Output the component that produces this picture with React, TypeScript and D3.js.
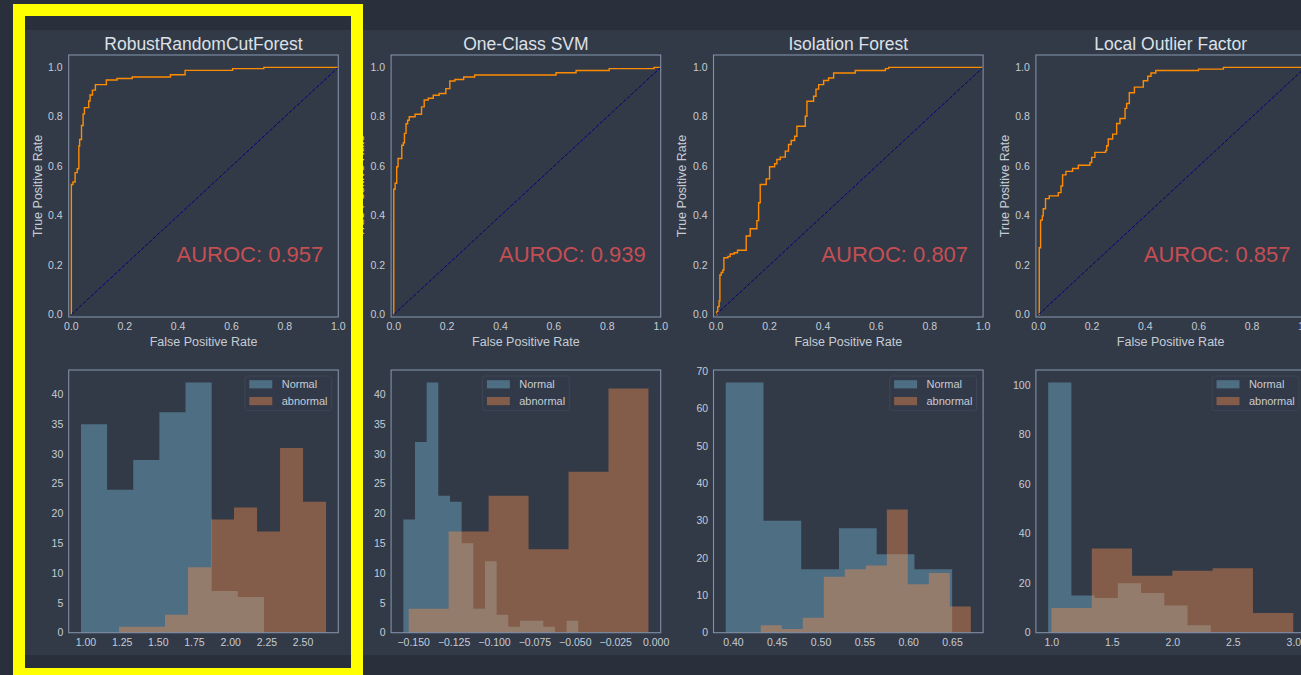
import React from "react";
import * as d3 from "d3";

// ---------- data ----------
const modelNames = ["RobustRandomCutForest", "One-Class SVM", "Isolation Forest", "Local Outlier Factor"];
const aurocLabels = ["AUROC: 0.957", "AUROC: 0.939", "AUROC: 0.807", "AUROC: 0.857"];

const rrcfFpr = [0, 0, 0.006, 0.014, 0.022, 0.028, 0.031, 0.038, 0.044, 0.049, 0.065, 0.07, 0.079, 0.09, 0.131, 0.171, 0.228, 0.371, 0.426, 0.604, 0.721, 1.0];
const rrcfTpr = [0, 0.526, 0.536, 0.574, 0.59, 0.682, 0.708, 0.765, 0.812, 0.837, 0.864, 0.888, 0.908, 0.93, 0.949, 0.955, 0.961, 0.97, 0.988, 0.995, 1.0, 1.0];

const ocsvmFpr = [0, 0, 0.005, 0.011, 0.016, 0.03, 0.036, 0.04, 0.046, 0.052, 0.058, 0.08, 0.104, 0.114, 0.129, 0.148, 0.17, 0.195, 0.21, 0.229, 0.262, 0.303, 0.608, 0.683, 0.807, 0.975, 1.0];
const ocsvmTpr = [0, 0.507, 0.531, 0.598, 0.631, 0.685, 0.695, 0.733, 0.772, 0.786, 0.8, 0.81, 0.84, 0.868, 0.875, 0.887, 0.894, 0.914, 0.945, 0.951, 0.961, 0.969, 0.978, 0.987, 0.995, 1.0, 1.0];

const ifFpr = [0, 0.0025, 0.006, 0.011, 0.014, 0.019, 0.025, 0.029, 0.044, 0.0525, 0.0675, 0.08, 0.1125, 0.1275, 0.1525, 0.159, 0.165, 0.1875, 0.2, 0.219, 0.2275, 0.24, 0.259, 0.271, 0.281, 0.294, 0.3025, 0.334, 0.34, 0.365, 0.374, 0.384, 0.4025, 0.421, 0.44, 0.521, 0.634, 0.646, 1.0];
const ifTpr = [0, 0.011, 0.032, 0.055, 0.16, 0.17, 0.18, 0.23, 0.235, 0.245, 0.25, 0.26, 0.318, 0.347, 0.38, 0.452, 0.526, 0.549, 0.598, 0.61, 0.627, 0.637, 0.661, 0.688, 0.704, 0.721, 0.762, 0.802, 0.863, 0.883, 0.912, 0.93, 0.947, 0.957, 0.977, 0.987, 0.995, 1.0, 1.0];

const lofFpr = [0, 0.0025, 0.0075, 0.014, 0.0175, 0.026, 0.04, 0.074, 0.084, 0.09, 0.1025, 0.1275, 0.149, 0.1925, 0.199, 0.211, 0.251, 0.255, 0.261, 0.2775, 0.2925, 0.305, 0.324, 0.33, 0.34, 0.359, 0.3925, 0.409, 0.421, 0.439, 0.599, 0.6925, 1.0];
const lofTpr = [0, 0.27, 0.382, 0.399, 0.428, 0.469, 0.48, 0.493, 0.52, 0.565, 0.579, 0.591, 0.604, 0.615, 0.636, 0.656, 0.663, 0.683, 0.71, 0.73, 0.773, 0.793, 0.834, 0.854, 0.897, 0.92, 0.946, 0.964, 0.977, 0.987, 0.993, 1.0, 1.0];

const rocTicks = [0, 0.2, 0.4, 0.6, 0.8, 1.0];

const rrcfNormalRange = [0.9654, 2.23];
const rrcfNormalCounts = [35, 24, 29, 37, 42, 7, 6];
const rrcfAbnormalRange = [1.2285, 2.659];
const rrcfAbnormalCounts = [1, 1, 3, 11, 19, 21, 17, 31, 22];

const ocsvmNormalRange = [-0.1564, -0.0482];
const ocsvmNormalCounts = [19, 32, 42, 23, 22, 15, 4, 12, 3, 1, 2, 2, 1, 0, 2];
const ocsvmAbnormalRange = [-0.1531, -0.00475];
const ocsvmAbnormalCounts = [4, 17, 23, 14, 27, 41];

const ifNormalRange = [0.39125, 0.6496];
const ifNormalCounts = [67, 30, 17, 28, 21, 17];
const ifAbnormalRange = [0.4312, 0.6709];
const ifAbnormalCounts = [2, 1, 4, 15, 17, 18, 33, 13, 16, 7];

const lofNormalRange = [0.9697, 2.313];
const lofNormalCounts = [101, 15, 14, 20, 16, 11, 3];
const lofAbnormalRange = [0.9972, 2.9945];
const lofAbnormalCounts = [10, 34, 23, 25, 26, 8];

const rrcfHistXTicks = [1.0, 1.25, 1.5, 1.75, 2.0, 2.25, 2.5];
const ocsvmHistXTicks = [-0.15, -0.125, -0.1, -0.075, -0.05, -0.025, 0.0];
const ifHistXTicks = [0.4, 0.45, 0.5, 0.55, 0.6, 0.65];
const lofHistXTicks = [1.0, 1.5, 2.0, 2.5, 3.0];

const rrcfHistYTicks = [0, 5, 10, 15, 20, 25, 30, 35, 40];
const ocsvmHistYTicks = [0, 5, 10, 15, 20, 25, 30, 35, 40];
const ifHistYTicks = [0, 10, 20, 30, 40, 50, 60, 70];
const lofHistYTicks = [0, 20, 40, 60, 80, 100];

const histXFormats = [".2f", ".3f", ".2f", ".1f"];
const legendLabels = ["Normal", "abnormal"];
const legendPlacement = ["right", "center", "right", "right"];

// ---------- styling / layout ----------
const FONT = "'Liberation Sans', Arial, Helvetica, sans-serif";
const W = 1301;
const H = 675;
const PAGE_BG = "#29303b";
const FIG_BG = "#323A48";
const SPINE = "#8090a6";
const TICK_COLOR = "#c6ccd5";
const TITLE_COLOR = "#dde1e7";
const NORMAL_COLOR = "#77BEDB";
const ABNORMAL_COLOR = "#ff914d";
const BAR_ALPHA = 0.4;

const PANEL_X0 = 68.7;
const PANEL_DX = 322.4;
const PANEL_W = 269.6;
const ROC_TOP = 55;
const ROC_BOTTOM = 317;
const HIST_TOP = 370;
const HIST_BOTTOM = 632.7;

const rocData = [
  [rrcfFpr, rrcfTpr],
  [ocsvmFpr, ocsvmTpr],
  [ifFpr, ifTpr],
  [lofFpr, lofTpr],
];
const histData = [
  { nr: rrcfNormalRange, nc: rrcfNormalCounts, ar: rrcfAbnormalRange, ac: rrcfAbnormalCounts, xt: rrcfHistXTicks, yt: rrcfHistYTicks },
  { nr: ocsvmNormalRange, nc: ocsvmNormalCounts, ar: ocsvmAbnormalRange, ac: ocsvmAbnormalCounts, xt: ocsvmHistXTicks, yt: ocsvmHistYTicks },
  { nr: ifNormalRange, nc: ifNormalCounts, ar: ifAbnormalRange, ac: ifAbnormalCounts, xt: ifHistXTicks, yt: ifHistYTicks },
  { nr: lofNormalRange, nc: lofNormalCounts, ar: lofAbnormalRange, ac: lofAbnormalCounts, xt: lofHistXTicks, yt: lofHistYTicks },
];

// step-outline points of a histogram: one point at each bin's left edge, plus the final right edge
function stepPoints(range: number[], counts: number[]) {
  const edges = d3.scaleLinear().domain([0, counts.length]).range(range);
  const pts = counts.map((c, k) => [edges(k), c] as [number, number]);
  pts.push([edges(counts.length), counts[counts.length - 1]]);
  return pts;
}

function RocPanel({ i }: { i: number }) {
  const left = PANEL_X0 + PANEL_DX * i;
  const right = left + PANEL_W;
  const x = d3.scaleLinear().domain([-0.01, 1.0]).range([left, right]);
  const y = d3.scaleLinear().domain([-0.01, 1.05]).range([ROC_BOTTOM, ROC_TOP]);
  const [fpr, tpr] = rocData[i];
  const pts = fpr.map((f, k) => [f, tpr[k]] as [number, number]);
  const line = d3
    .line<[number, number]>()
    .x((d) => x(d[0]))
    .y((d) => y(d[1]))
    .curve(d3.curveStepAfter);
  const fmt = d3.format(".1f");
  const cx = (left + right) / 2;
  return (
    <g>
      <text x={cx} y={49.5} textAnchor="middle" fontSize={17.5} fill={TITLE_COLOR} fontFamily={FONT}>
        {modelNames[i]}
      </text>
      <path d={line(pts) || ""} fill="none" stroke="#ff8c00" strokeWidth={1.4} />
      <line x1={x(0)} y1={y(0)} x2={x(1)} y2={y(1)} stroke="#000080" strokeWidth={1} strokeDasharray="3.7 1.6" />
      <rect x={left} y={ROC_TOP} width={PANEL_W} height={ROC_BOTTOM - ROC_TOP} fill="none" stroke={SPINE} strokeWidth={1.1} />
      {rocTicks.map((t) => (
        <text key={"y" + t} x={left - 6} y={y(t) + 3.7} textAnchor="end" fontSize={10.5} fill={TICK_COLOR} fontFamily={FONT}>
          {fmt(t)}
        </text>
      ))}
      {rocTicks.map((t) => (
        <text key={"x" + t} x={x(t)} y={ROC_BOTTOM + 13.2} textAnchor="middle" fontSize={10.5} fill={TICK_COLOR} fontFamily={FONT}>
          {fmt(t)}
        </text>
      ))}
      <text x={cx} y={ROC_BOTTOM + 28.6} textAnchor="middle" fontSize={12.5} fill={TICK_COLOR} fontFamily={FONT}>
        False Positive Rate
      </text>
      <text
        transform={`translate(${left - 27.2},${(ROC_TOP + ROC_BOTTOM) / 2}) rotate(-90)`}
        textAnchor="middle"
        fontSize={12.5}
        fill={TICK_COLOR}
        fontFamily={FONT}
      >
        True Positive Rate
      </text>
      <text x={left + 254.6} y={261.6} textAnchor="end" fontSize={22} fill="#c44e52" fontFamily={FONT}>
        {aurocLabels[i]}
      </text>
    </g>
  );
}

function HistPanel({ i }: { i: number }) {
  const left = PANEL_X0 + PANEL_DX * i;
  const right = left + PANEL_W;
  const h = histData[i];
  const lo = Math.min(h.nr[0], h.ar[0]);
  const hi = Math.max(h.nr[1], h.ar[1]);
  const pad = (hi - lo) * 0.05;
  const x = d3.scaleLinear().domain([lo - pad, hi + pad]).range([left, right]);
  const yMax = (d3.max([...h.nc, ...h.ac]) as number) * 1.05;
  const y = d3.scaleLinear().domain([0, yMax]).range([HIST_BOTTOM, HIST_TOP]);
  const area = d3
    .area<[number, number]>()
    .x((d) => x(d[0]))
    .y0(y(0))
    .y1((d) => y(d[1]))
    .curve(d3.curveStepAfter);
  const nPath = area(stepPoints(h.nr, h.nc)) || "";
  const aPath = area(stepPoints(h.ar, h.ac)) || "";
  const xf = d3.format(histXFormats[i]);
  const lw = 86.7;
  const lx = legendPlacement[i] === "right" ? right - 6.6 - lw : (left + right) / 2 - lw / 2;
  const ly = 376;
  return (
    <g>
      <path d={nPath} fill={NORMAL_COLOR} fillOpacity={BAR_ALPHA} />
      <path d={aPath} fill={ABNORMAL_COLOR} fillOpacity={BAR_ALPHA} />
      <rect x={left} y={HIST_TOP} width={PANEL_W} height={HIST_BOTTOM - HIST_TOP} fill="none" stroke={SPINE} strokeWidth={1.1} />
      {h.yt.map((t) => (
        <text key={"y" + t} x={left - 5.4} y={y(t) + 3.7} textAnchor="end" fontSize={10.5} fill={TICK_COLOR} fontFamily={FONT}>
          {t}
        </text>
      ))}
      {h.xt.map((t) => (
        <text key={"x" + t} x={x(t)} y={HIST_BOTTOM + 13.4} textAnchor="middle" fontSize={10.5} fill={TICK_COLOR} fontFamily={FONT}>
          {xf(t)}
        </text>
      ))}
      <g>
        <rect x={lx} y={ly} width={lw} height={34.7} rx={2.5} fill={FIG_BG} fillOpacity={0.8} stroke="#3e4655" strokeWidth={1} />
        {legendLabels.map((lab, k) => (
          <g key={lab}>
            <rect x={lx + 4.3} y={ly + 4.2 + k * 16.8} width={23} height={8.2} fill={FIG_BG} />
            <rect
              x={lx + 4.3}
              y={ly + 4.2 + k * 16.8}
              width={23}
              height={8.2}
              fill={k === 0 ? NORMAL_COLOR : ABNORMAL_COLOR}
              fillOpacity={BAR_ALPHA}
            />
            <text x={lx + 36.7} y={ly + 12.4 + k * 16.4} fontSize={11} fill={TICK_COLOR} fontFamily={FONT}>
              {lab}
            </text>
          </g>
        ))}
      </g>
    </g>
  );
}

export default function App() {
  return (
    <svg
      width={W}
      height={H}
      style={{ position: "absolute", left: 0, top: 0, display: "block" }}
      xmlns="http://www.w3.org/2000/svg"
    >
      <rect x={0} y={0} width={W} height={H} fill={PAGE_BG} />
      <rect x={25} y={30} width={W - 25} height={625} fill={FIG_BG} />
      {modelNames.map((_, i) => (
        <RocPanel key={"roc" + i} i={i} />
      ))}
      {modelNames.map((_, i) => (
        <HistPanel key={"hist" + i} i={i} />
      ))}
      <rect x={19} y={10} width={338} height={664} fill="none" stroke="#ffff00" strokeWidth={12} />
    </svg>
  );
}
